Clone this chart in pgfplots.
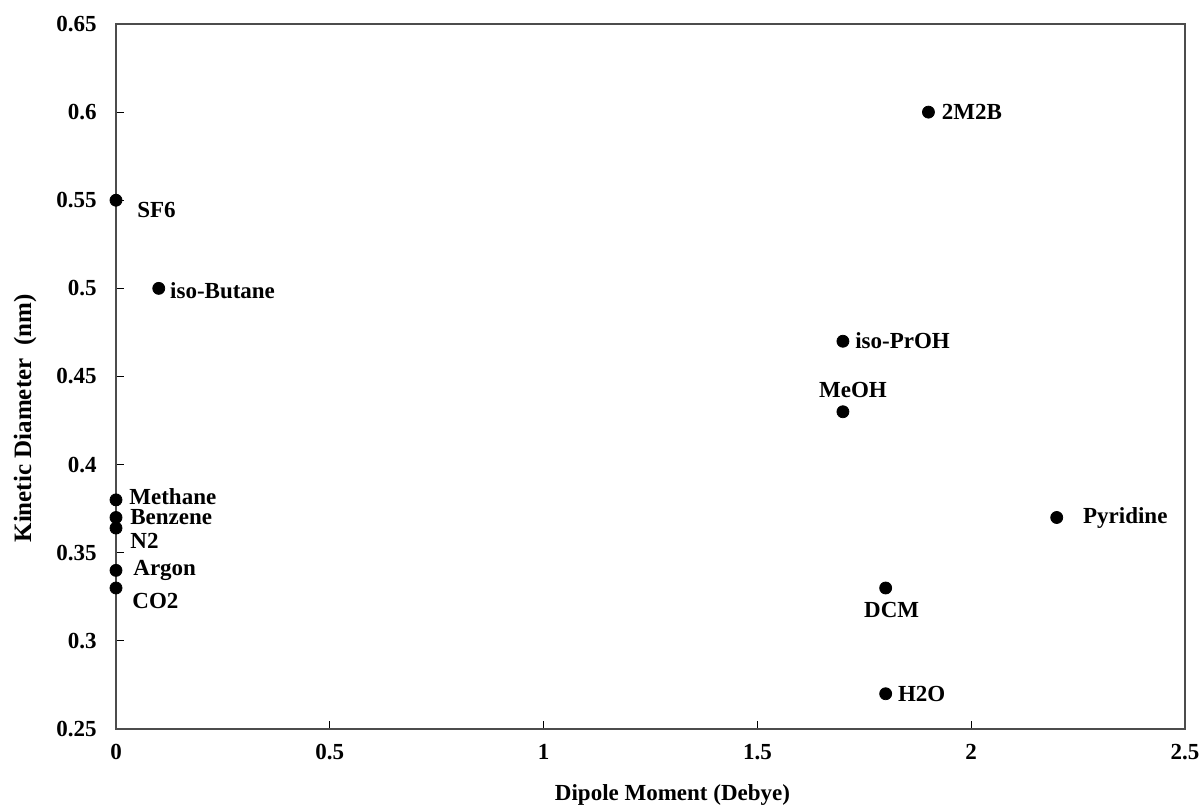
\documentclass[border=0pt]{standalone}
\usepackage{pgfplots}
\pgfplotsset{compat=1.18}
\usepackage{fontspec}
\setmainfont{Liberation Serif}
\usetikzlibrary{calc}
\begin{document}
\begin{tikzpicture}
\begin{axis}[
  scale only axis,
  width=534.5pt, height=352.5pt,
  xmin=0, xmax=2.5, ymin=0.25, ymax=0.65,
  xtick={0,0.5,1,1.5,2,2.5},
  ytick={0.25,0.3,0.35,0.4,0.45,0.5,0.55,0.6,0.65},
  yticklabels={0.25,0.3,0.35,0.4,0.45,0.5,0.55,0.6,0.65},
  xticklabels={0,0.5,1,1.5,2,2.5},
  tick align=inside, xtick pos=bottom, ytick pos=left,
  major tick length=4pt,
  axis line style={black!70, line width=0.6pt},
  tick style={black, line width=0.5pt},
  font=\fontsize{11.5}{13}\selectfont\bfseries,
  yticklabel style={anchor=east, inner sep=0pt, xshift=-9.5pt},
  xticklabel style={anchor=north, inner sep=0pt, yshift=-7.5pt},
  xlabel={Dipole Moment (Debye)},
  ylabel={Kinetic Diameter\ \ (nm)},
  xlabel style={at={(axis description cs:0.5,0)}, anchor=center, yshift=-33pt, xshift=11pt},
  ylabel style={at={(axis description cs:0,0.5)}, anchor=center, yshift=45.5pt, xshift=-21pt, font=\fontsize{12.5}{14}\selectfont\bfseries},
  clip=false,
]
\addplot[only marks, mark=*, mark size=3pt, black] coordinates {
  (0,0.55) (0.1,0.5) (1.9,0.6) (1.7,0.47) (1.7,0.43) (2.2,0.37)
  (1.8,0.33) (1.8,0.27) (0,0.38) (0,0.37) (0,0.364) (0,0.34) (0,0.33)
};
\node[anchor=west, inner sep=0pt] at ($(axis cs:0,0.55)+(10.5pt,-5pt)$) {SF6};
\node[anchor=west, inner sep=0pt] at ($(axis cs:0.1,0.5)+(5.5pt,-1pt)$) {iso-Butane};
\node[anchor=west, inner sep=0pt] at ($(axis cs:1.9,0.6)+(6.5pt,0pt)$) {2M2B};
\node[anchor=west, inner sep=0pt] at ($(axis cs:1.7,0.47)+(6pt,0.5pt)$) {iso-PrOH};
\node[anchor=center, inner sep=0pt] at ($(axis cs:1.7,0.43)+(5pt,11pt)$) {MeOH};
\node[anchor=west, inner sep=0pt] at ($(axis cs:2.2,0.37)+(13pt,-0.5pt)$) {Pyridine};
\node[anchor=center, inner sep=0pt] at ($(axis cs:1.8,0.33)+(3pt,-11pt)$) {DCM};
\node[anchor=west, inner sep=0pt] at ($(axis cs:1.8,0.27)+(6pt,0pt)$) {H2O};
\node[anchor=west, inner sep=0pt] at ($(axis cs:0,0.38)+(6.5pt,1.5pt)$) {Methane};
\node[anchor=west, inner sep=0pt] at ($(axis cs:0,0.37)+(7pt,0pt)$) {Benzene};
\node[anchor=west, inner sep=0pt] at ($(axis cs:0,0.364)+(7pt,-6.5pt)$) {N2};
\node[anchor=west, inner sep=0pt] at ($(axis cs:0,0.34)+(8.5pt,0pt)$) {Argon};
\node[anchor=west, inner sep=0pt] at ($(axis cs:0,0.33)+(8pt,-6.5pt)$) {CO2};
\end{axis}
\pgfresetboundingbox
\path ($(current axis.south west)+(-58pt,-39pt)$) rectangle ($(current axis.north east)+(9pt,12pt)$);
\end{tikzpicture}
\end{document}
